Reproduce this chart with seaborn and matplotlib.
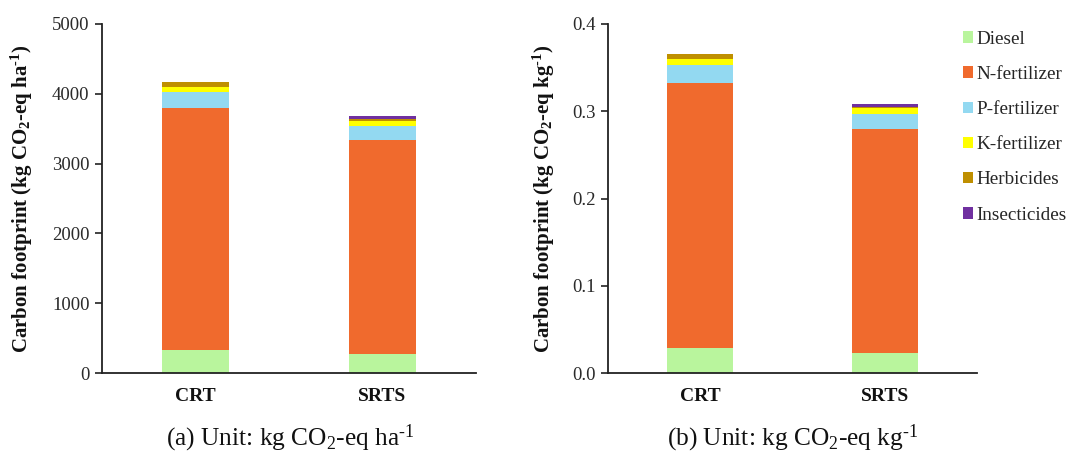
import numpy as np
import pandas as pd
import seaborn as sns
import matplotlib
matplotlib.use("Agg")
import matplotlib.pyplot as plt
from matplotlib.patches import Patch

sns.set_theme(style="white")
plt.rcParams['font.family'] = ['Liberation Serif', 'DejaVu Serif']
plt.rcParams['mathtext.fontset'] = 'custom'
plt.rcParams['mathtext.rm'] = 'Liberation Serif'
plt.rcParams['mathtext.bf'] = 'Liberation Serif:bold'
plt.rcParams['mathtext.it'] = 'Liberation Serif:italic'

categories = ["CRT", "SRTS"]
components = ["Diesel", "N-fertilizer", "P-fertilizer", "K-fertilizer", "Herbicides", "Insecticides"]
colors = ["#B9F59D", "#F06A2D", "#93D9F1", "#FFFF00", "#BF8F00", "#7030A0"]

# (a) kg CO2-eq ha-1
area_diesel = [325, 272]
area_n = [3468, 3063]
area_p = [238, 209]
area_k = [72, 71]
area_herb = [67, 22]
area_insect = [0, 40]

# (b) kg CO2-eq kg-1
yield_diesel = [0.0283, 0.0229]
yield_n = [0.3044, 0.2571]
yield_p = [0.0203, 0.0168]
yield_k = [0.0065, 0.0066]
yield_herb = [0.0058, 0.0020]
yield_insect = [0.0, 0.0029]

area_series = [area_diesel, area_n, area_p, area_k, area_herb, area_insect]
yield_series = [yield_diesel, yield_n, yield_p, yield_k, yield_herb, yield_insect]

fig = plt.figure(figsize=(10.67, 4.62), dpi=100)
ax1 = fig.add_axes([102/1067, 1-373/462, 374/1067, 349/462])
ax2 = fig.add_axes([608/1067, 1-373/462, 369/1067, 349/462])

def draw(ax, series, ylim, yticks, fmt):
    bottom = np.zeros(len(categories))
    for name, vals, col in zip(components, series, colors):
        df = pd.DataFrame({"cat": categories, "val": vals})
        sns.barplot(data=df, x="cat", y="val", bottom=bottom, color=col,
                    width=0.36, ax=ax, saturation=1, edgecolor="none", linewidth=0)
        bottom = bottom + np.array(vals)
    ax.set_xlim(-0.5, 1.5)
    ax.set_ylim(*ylim)
    ax.set_yticks(yticks)
    ax.set_yticklabels([fmt.format(t) for t in yticks], fontsize=13.5, color="#2a2a2a")
    ax.set_xlabel("")
    for s in ["top", "right"]:
        ax.spines[s].set_visible(False)
    for s in ["left", "bottom"]:
        ax.spines[s].set_color("#222222")
        ax.spines[s].set_linewidth(1.3)
    ax.tick_params(axis="y", left=True, direction="out", length=5, width=1.2, color="#222222", pad=4)
    ax.tick_params(axis="x", bottom=False, pad=5)
    for lbl in ax.get_xticklabels():
        lbl.set_fontweight("bold")
        lbl.set_fontsize(14)
        lbl.set_color("#111111")

draw(ax1, area_series, (0, 5000), [0, 1000, 2000, 3000, 4000, 5000], "{:.0f}")
draw(ax2, yield_series, (0, 0.4), [0.0, 0.1, 0.2, 0.3, 0.4], "{:.1f}")

ax1.set_ylabel(r"Carbon footprint (kg CO$_\mathbf{2}$-eq ha$^\mathbf{\text{-}1}$)",
               fontsize=15, fontweight="bold", color="#111111")
ax2.set_ylabel(r"Carbon footprint (kg CO$_\mathbf{2}$-eq kg$^\mathbf{\text{-}1}$)",
               fontsize=15, fontweight="bold", color="#111111")
ax1.yaxis.set_label_coords((35-102)/374, 0.5)
ax2.yaxis.set_label_coords((557-608)/369, 0.5)

fig.text(290/1067, 1-438/462, r"(a) Unit: kg CO$_2$-eq ha$^{\text{-}1}$", ha="center", va="center",
         fontsize=18.3, color="#111111")
fig.text(793/1067, 1-438/462, r"(b) Unit: kg CO$_2$-eq kg$^{\text{-}1}$", ha="center", va="center",
         fontsize=18.3, color="#111111")

handles = [Patch(facecolor=c, edgecolor="none", label=n) for n, c in zip(components, colors)]
fig.legend(handles=handles, loc="upper left", bbox_to_anchor=(955/1067, 1-23/462),
           frameon=False, fontsize=13.8, handlelength=0.55, handleheight=0.55,
           handletextpad=0.15, labelspacing=0.95, borderaxespad=0)

fig.savefig("out.png", dpi=100, facecolor="white")
